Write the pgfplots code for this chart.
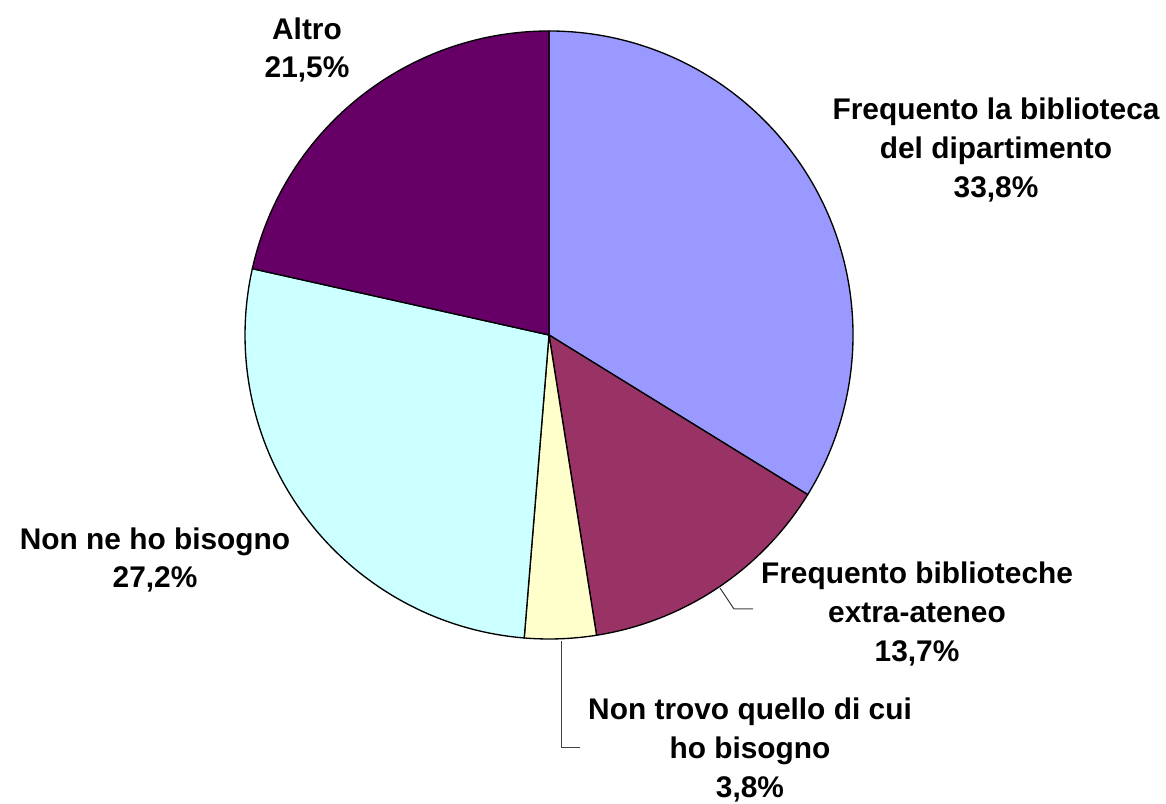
\documentclass[border=0pt]{standalone}
\usepackage{pgfplots}
\usepackage{pgfplotstable}
\pgfplotsset{compat=1.18}
\usepackage{fontspec}
\setmainfont{Liberation Sans}
\definecolor{c1}{HTML}{9999FF}
\definecolor{c2}{HTML}{993366}
\definecolor{c3}{HTML}{FFFFCC}
\definecolor{c4}{HTML}{CCFFFF}
\definecolor{c5}{HTML}{660066}
\definecolor{leader}{HTML}{404040}
\pgfplotstableread{
value color
33.8 c1
13.7 c2
3.8 c3
27.2 c4
21.5 c5
}\piedata
\begin{document}
\begin{tikzpicture}
\begin{axis}[
  width=874.5pt, height=602.25pt, scale only axis,
  xmin=0, xmax=1166, ymin=0, ymax=803,
  hide axis, clip=false,
]
\addplot[draw=none, forget plot] coordinates {(0,0) (1166,803)};
\pgfplotsextra{
  \path (axis cs:0,0) rectangle (axis cs:1166,803);
  \xdef\cum{90}
  \foreach \i in {0,...,4}{
    \pgfplotstablegetelem{\i}{value}\of\piedata
    \let\v\pgfplotsretval
    \pgfplotstablegetelem{\i}{color}\of\piedata
    \let\col\pgfplotsretval
    \pgfmathsetmacro\endang{\cum-\v*3.6}
    \filldraw[fill=\col, draw=black, line width=1pt, line join=round]
      (axis cs:549,468) -- ++(\cum:228pt)
      arc[start angle=\cum, end angle=\endang, radius=228pt] -- cycle;
    \xdef\cum{\endang}
  }
  \draw[leader, line width=0.75pt] (axis cs:720,215) -- (axis cs:734,194) -- (axis cs:753,194);
  \draw[leader, line width=0.75pt] (axis cs:561,162) -- (axis cs:561,56) -- (axis cs:580,56);
  \tikzset{lbl/.style={align=center, inner sep=0pt, font=\fontsize{22.4}{29}\selectfont\bfseries}}
  \node[lbl] at (axis cs:996,653) {Frequento la biblioteca\\del dipartimento\\33,8\%};
  \node[lbl] at (axis cs:917,189) {Frequento biblioteche\\extra-ateneo\\13,7\%};
  \node[lbl] at (axis cs:750,53) {Non trovo quello di cui\\ho bisogno\\3,8\%};
  \node[lbl] at (axis cs:155,243) {Non ne ho bisogno\\27,2\%};
  \node[lbl] at (axis cs:307,753) {Altro\\21,5\%};
}
\end{axis}
\end{tikzpicture}
\end{document}
